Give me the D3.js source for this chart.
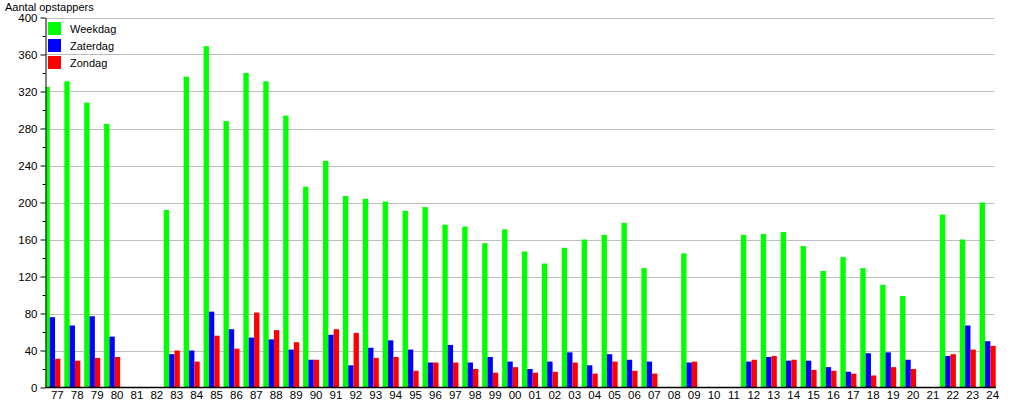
<html>
<head>
<script src="https://d3js.org/d3.v7.min.js"></script>
<style>
  body{margin:0;background:#fff;}
  text{font-family:"Liberation Sans",Arial,sans-serif;fill:#000;}
  .grid line{stroke:#bdbdbd;stroke-width:1;}
  .axis path,.axis line{stroke:#000;}
</style>
</head>
<body>
<script>
// categories (jaartallen)
const years = ["77","78","79","80","81","82","83","84","85","86","87","88","89","90","91","92","93","94","95","96","97","98","99",
  "00","01","02","03","04","05","06","07","08","09","10","11","12","13","14","15","16","17","18","19","20","21","22","23","24"];

// series values (null = geen telling)
const weekdag = [325,331,308,285,null,null,192,336,369,288,340,331,294,217,245,207,204,201,191,195,176,174,156,
  171,147,134,151,160,165,178,129,null,145,null,null,165,166,168,153,126,141,129,111,99,null,187,160,200];
const zaterdag = [76,67,77,55,null,null,36,40,82,63,54,52,41,30,57,24,43,51,41,27,46,27,33,
  28,20,28,38,24,36,30,28,null,27,null,null,28,33,29,29,22,17,37,38,30,null,34,67,50];
const zondag = [31,29,32,33,null,null,40,28,56,42,81,62,49,30,63,59,32,33,18,27,27,20,16,
  22,16,17,27,15,28,18,15,null,28,null,null,30,34,30,19,18,15,13,22,20,null,36,41,45];

const seriesNames = ["Weekdag","Zaterdag","Zondag"];
const seriesColors = ["#00ff00","#0000ff","#ff0000"];
const yMajor = [0,40,80,120,160,200,240,280,320,360,400];

const w = 1015, h = 400;
const axisX = 45.5, plotRight = 994.5;

const svg = d3.select("body").append("svg")
  .attr("width", w).attr("height", h);

const y = d3.scaleLinear().domain([0,400]).range([387.5,17.5]);
const x = d3.scaleBand().domain(years).range([44.4, 999.6]);
const xSub = d3.scaleBand().domain(seriesNames).range([0,16]);

// gridlines
svg.append("g").attr("class","grid")
  .selectAll("line").data(yMajor.filter(d => d > 0)).enter().append("line")
  .attr("x1", axisX).attr("x2", plotRight)
  .attr("y1", d => Math.round(y(d)) + 0.5).attr("y2", d => Math.round(y(d)) + 0.5);

// bars
svg.append("clipPath").attr("id","plotclip")
  .append("rect").attr("x", axisX).attr("y", 0).attr("width", w).attr("height", 388);

const rows = years.map((yr,i) => ({yr:yr, vals:[weekdag[i], zaterdag[i], zondag[i]]}));
const groups = svg.append("g").attr("clip-path","url(#plotclip)")
  .selectAll("g").data(rows).enter().append("g")
  .attr("transform", d => "translate(" + x(d.yr) + ",0)");

groups.selectAll("rect")
  .data(d => d.vals.map((v,j) => ({name:seriesNames[j], v:v, c:seriesColors[j]})).filter(e => e.v != null))
  .enter().append("rect")
  .attr("x", e => xSub(e.name))
  .attr("width", xSub.bandwidth())
  .attr("y", e => y(e.v))
  .attr("height", e => y(0) - y(e.v))
  .attr("fill", e => e.c);

// y axis (major + minor ticks)
const yAxis = d3.axisLeft(y).tickValues(yMajor).tickSize(5).tickSizeOuter(0).tickPadding(3);
const yg = svg.append("g").attr("class","axis")
  .attr("transform","translate(" + axisX + ",0)")
  .call(yAxis);
yg.selectAll("text").style("font-size","11.5px");

const minor = d3.range(20,400,40);
svg.append("g").attr("class","axis")
  .attr("transform","translate(" + axisX + ",0)")
  .call(d3.axisLeft(y).tickValues(minor).tickSize(3).tickFormat(""))
  .select(".domain").remove();

// x axis
const xAxis = d3.axisBottom(x).tickSize(0).tickSizeOuter(0).tickPadding(3);
const xg = svg.append("g").attr("class","axis")
  .attr("transform","translate(0,387.5)")
  .call(xAxis);
xg.select(".domain").attr("d","M" + axisX + ",0H996").attr("stroke-width",1.5);
xg.selectAll("text").style("font-size","11.5px").attr("dx", 3);

// title
svg.append("text").attr("x",5).attr("y",11)
  .style("font-size","11px").text("Aantal opstappers");

// legend
const leg = svg.append("g").selectAll("g").data(seriesNames).enter().append("g")
  .attr("transform",(d,i) => "translate(48," + (22 + i*17) + ")");
leg.append("rect").attr("width",13).attr("height",13)
  .attr("fill",(d,i) => seriesColors[i]);
leg.append("text").attr("x",22).attr("y",11)
  .style("font-size","11px").text(d => d);
</script>
</body>
</html>
